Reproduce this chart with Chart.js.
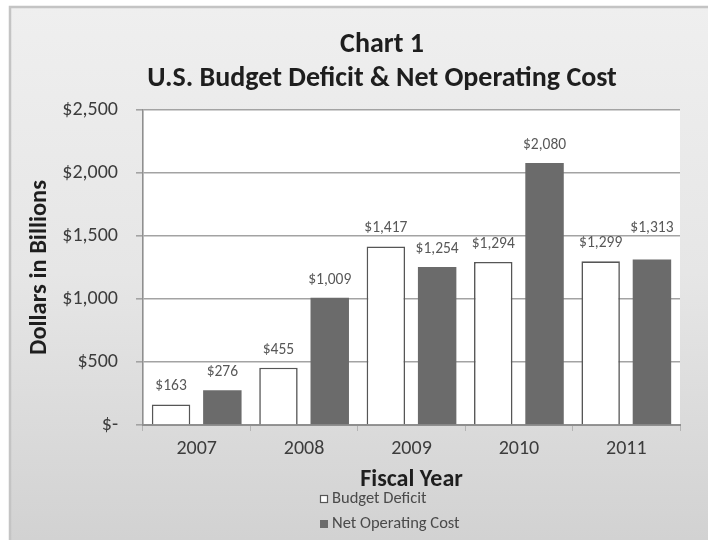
<!DOCTYPE html>
<html>
<head>
<meta charset="utf-8">
<script src="https://cdn.jsdelivr.net/npm/chart.js@4/dist/chart.umd.min.js"></script>
<style>
  html, body { margin: 0; padding: 0; background: #ffffff; }
  #wrap { width: 708px; height: 540px; }
</style>
</head>
<body>
<div id="wrap"><canvas id="chart" width="708" height="540"></canvas></div>
<script>
// Fiscal years on the category axis
const years = ['2007', '2008', '2009', '2010', '2011'];
// Dollars in billions
const budgetDeficit = [163, 455, 1417, 1294, 1299];
const netOperatingCost = [276, 1009, 1254, 2080, 1313];
// Value axis ticks
const yTicks = [0, 500, 1000, 1500, 2000, 2500];

const FONT = "Carlito, Calibri, Lato, 'Open Sans', sans-serif";
const titleLines = ['Chart 1', 'U.S. Budget Deficit & Net Operating Cost'];

function money(v) {
  return v === 0 ? '$-' : '$' + v.toLocaleString('en-US');
}

// Grey gradient panel with a thin frame, and a white plot area
const framePlugin = {
  id: 'frame',
  beforeDraw(chart) {
    const ctx = chart.ctx;
    const a = chart.chartArea;
    ctx.save();
    ctx.fillStyle = '#ffffff';
    ctx.fillRect(0, 0, chart.width, chart.height);
    const g = ctx.createLinearGradient(0, 6, 0, chart.height);
    g.addColorStop(0, '#efefef');
    g.addColorStop(0.5, '#e6e6e6');
    g.addColorStop(1, '#d2d2d2');
    ctx.fillStyle = g;
    ctx.fillRect(9, 6, chart.width - 9, chart.height - 6);
    ctx.strokeStyle = '#c4c4c4';
    ctx.lineWidth = 2.5;
    ctx.strokeRect(10, 7, chart.width + 10, chart.height + 10);
    ctx.fillStyle = '#ffffff';
    ctx.fillRect(a.left, a.top, a.right - a.left, a.bottom - a.top);
    ctx.restore();
  }
};

// Two-line heading above the plot
const headingPlugin = {
  id: 'heading',
  afterDraw(chart, args, opts) {
    const ctx = chart.ctx;
    ctx.save();
    ctx.fillStyle = '#1e1e1e';
    ctx.textAlign = 'center';
    ctx.textBaseline = 'middle';
    ctx.font = 'bold ' + opts.size + 'px ' + FONT;
    opts.lines.forEach((t, i) => ctx.fillText(t, opts.x, opts.y[i]));
    ctx.restore();
  }
};

// Value labels above each bar
const valueLabelPlugin = {
  id: 'valueLabels',
  afterDatasetsDraw(chart, args, opts) {
    const ctx = chart.ctx;
    ctx.save();
    ctx.fillStyle = '#585858';
    ctx.font = opts.size + 'px ' + FONT;
    ctx.textAlign = 'center';
    ctx.textBaseline = 'middle';
    chart.data.datasets.forEach((ds, di) => {
      const meta = chart.getDatasetMeta(di);
      meta.data.forEach((bar, i) => {
        const nudge = (opts.nudge[di] && opts.nudge[di][i]) || 0;
        ctx.fillText(money(ds.data[i]), bar.x, bar.y - opts.offset + nudge);
      });
    });
    ctx.restore();
  }
};

// Stacked legend list under the axis title
const legendListPlugin = {
  id: 'legendList',
  afterDraw(chart, args, opts) {
    const ctx = chart.ctx;
    ctx.save();
    ctx.font = opts.size + 'px ' + FONT;
    ctx.textBaseline = 'middle';
    ctx.textAlign = 'left';
    chart.data.datasets.forEach((ds, i) => {
      const y = opts.y + i * opts.rowGap;
      const b = opts.box;
      ctx.fillStyle = ds.backgroundColor;
      ctx.fillRect(opts.x, y - b / 2, b, b);
      if (ds.borderWidth) {
        ctx.strokeStyle = ds.borderColor;
        ctx.lineWidth = 1.2;
        ctx.strokeRect(opts.x + 0.5, y - b / 2 + 0.5, b - 1, b - 1);
      }
      ctx.fillStyle = '#4a4a4a';
      ctx.fillText(ds.label, opts.x + b + 4, y);
    });
    ctx.restore();
  }
};

new Chart(document.getElementById('chart'), {
  type: 'bar',
  data: {
    labels: years,
    datasets: [
      {
        label: 'Budget Deficit',
        data: budgetDeficit,
        backgroundColor: '#ffffff',
        borderColor: '#565656',
        borderWidth: 1.6,
        borderSkipped: 'bottom'
      },
      {
        label: 'Net Operating Cost',
        data: netOperatingCost,
        backgroundColor: '#6b6b6b',
        borderWidth: 0
      }
    ]
  },
  options: {
    responsive: false,
    animation: false,
    devicePixelRatio: 1,
    layout: { padding: { left: 20, right: 28, top: 110, bottom: 46 } },
    datasets: {
      bar: { categoryPercentage: 0.955, barPercentage: 0.75 }
    },
    scales: {
      x: {
        offset: true,
        afterFit(scale) { scale.height = 69; },
        grid: {
          display: true,
          offset: true,
          drawOnChartArea: false,
          drawTicks: true,
          tickLength: 6,
          color: '#b4b4b4',
          lineWidth: 1
        },
        border: { display: true, color: '#8f8f8f', width: 2 },
        ticks: {
          color: '#3c3c3c',
          padding: 6,
          font: { family: FONT, size: 20 }
        },
        title: {
          display: true,
          text: 'Fiscal Year',
          color: '#1e1e1e',
          padding: { top: 0, bottom: 0 },
          font: { family: FONT, size: 24, weight: 'bold' }
        }
      },
      y: {
        min: 0,
        max: 2500,
        afterFit(scale) { scale.width = 123; },
        afterBuildTicks(scale) { scale.ticks = yTicks.map(v => ({ value: v })); },
        grid: {
          color: '#a3a3a3',
          lineWidth: 1.6,
          drawTicks: true,
          tickLength: 7
        },
        border: { display: true, color: '#8f8f8f', width: 1.6 },
        ticks: {
          color: '#3c3c3c',
          padding: 18,
          font: { family: FONT, size: 20 },
          callback: (v) => money(v)
        },
        title: {
          display: true,
          text: 'Dollars in Billions',
          color: '#1e1e1e',
          padding: { top: 5, bottom: 0 },
          font: { family: FONT, size: 24.5, weight: 'bold' }
        }
      }
    },
    plugins: {
      legend: { display: false },
      title: { display: false },
      tooltip: { enabled: false },
      heading: { lines: titleLines, x: 382, y: [45, 79], size: 28 },
      valueLabels: { size: 15.5, offset: 18, nudge: { 1: { 4: -13 } } },
      legendList: { x: 320, y: 499, rowGap: 25, box: 8, size: 16.5 }
    }
  },
  plugins: [framePlugin, headingPlugin, valueLabelPlugin, legendListPlugin]
});
</script>
</body>
</html>
